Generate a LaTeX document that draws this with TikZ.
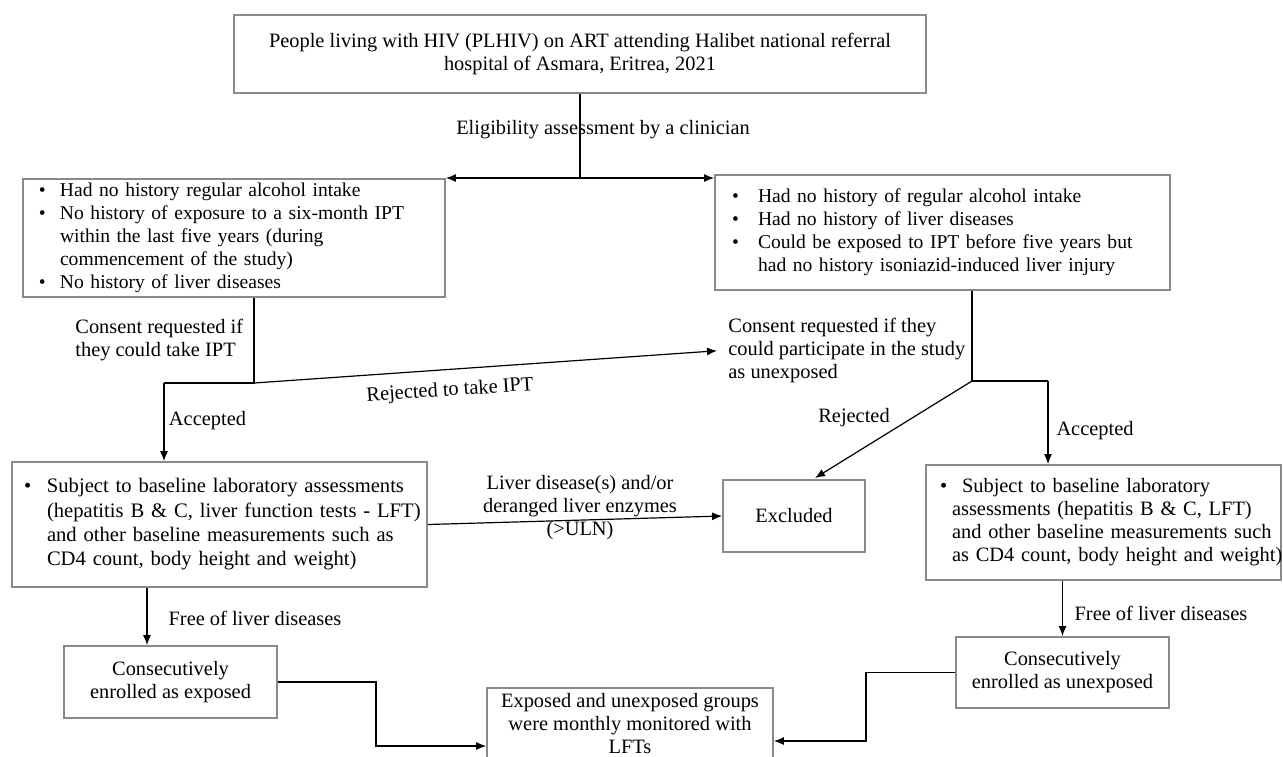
\documentclass[tikz,border=0pt]{standalone}
\usepackage{fontspec}
\setmainfont{Liberation Serif}
\usetikzlibrary{arrows.meta}
\definecolor{boxgray}{HTML}{8A8A8A}
\begin{document}
\begin{tikzpicture}[x=0.5pt,y=-0.5pt,
  font=\fontsize{10.2}{11.5}\selectfont,
  box/.style={draw=boxgray, line width=0.9pt, rectangle, inner sep=0pt},
  cbox/.style={box, align=center},
  lbox/.style={box, align=left},
  lbl/.style={inner sep=0pt},
  conn/.style={line width=0.6pt, black},
  arr/.style={conn, -{Latex[length=5pt,width=4pt]}}
]
\useasboundingbox (0,0) rectangle (1283,756);
\clip (0,0) rectangle (1283,756);

% boxes
\node[cbox, minimum width=346pt, minimum height=39pt] (top) at (580,54)
  {People living with HIV (PLHIV) on ART attending Halibet national referral\\hospital of Asmara, Eritrea, 2021};

\node[lbox, text width=211pt, minimum height=59pt, font=\fontsize{9.8}{11.4}\selectfont] (L1) at (234,238)
  {\noindent\hspace*{8pt}\begin{tabular}{@{}p{10.5pt}@{}l@{}}
  \textbullet & Had no history regular alcohol intake\\
  \textbullet & No history of exposure to a six-month IPT\\
   & within the last five years (during\\
   & commencement of the study)\\
  \textbullet & No history of liver diseases
  \end{tabular}};

\node[lbox, text width=227.5pt, minimum height=57.5pt, font=\fontsize{9.8}{11.5}\selectfont] (R1) at (942.5,232.5)
  {\noindent\hspace*{8.5pt}\begin{tabular}{@{}p{13pt}@{}l@{}}
  \textbullet & Had no history of regular alcohol intake\\
  \textbullet & Had no history of liver diseases\\
  \textbullet & Could be exposed to IPT before five years but\\
   & had no history isoniazid-induced liver injury
  \end{tabular}};

\node[lbox, text width=207.5pt, minimum height=62.5pt, font=\fontsize{10.3}{12.2}\selectfont] (L2) at (219.5,524.5)
  {\noindent\hspace*{6pt}\begin{tabular}{@{}p{11.5pt}@{}l@{}}
  \textbullet & Subject to baseline laboratory assessments\\
   & (hepatitis B \& C, liver function tests - LFT)\\
   & and other baseline measurements such as\\
   & CD4 count, body height and weight)
  \end{tabular}};

\node[lbox, text width=177.5pt, minimum height=57.5pt] (R2) at (1103.5,522.5)
  {\noindent\hspace*{13pt}\begin{tabular}{@{}l@{}}
  \hspace*{-6pt}\makebox[11pt][l]{\textbullet}Subject to baseline laboratory\\
  assessments (hepatitis B \& C, LFT)\\
  and other baseline measurements such\\
  as CD4 count, body height and weight)
  \end{tabular}};

\node[cbox, minimum width=71pt, minimum height=36pt] (exc) at (794,516) {Excluded};
\node[cbox, minimum width=106.5pt, minimum height=36pt] (exp) at (170.5,682) {Consecutively\\enrolled as exposed};
\node[cbox, minimum width=106.5pt, minimum height=35.5pt] (unexp) at (1062.5,672.5) {Consecutively\\enrolled as unexposed};
\node[cbox, minimum width=143pt, minimum height=36pt] (bot) at (630,724) {Exposed and unexposed groups\\were monthly monitored with\\LFTs};

% labels
\node[lbl] (elig) at (603,130) {Eligibility assessment by a clinician};
\node[lbl, align=left, anchor=west] (cons1) at (75,340) {Consent requested if\\they could take IPT};
\node[lbl] (acc1) at (207.5,421) {Accepted};
\node[lbl, rotate=3.8] (rej1) at (450,391) {Rejected to take IPT};
\node[lbl, align=left, anchor=west] (cons2) at (728,350) {Consent requested if they\\could participate in the study\\as unexposed};
\node[lbl] (rej2) at (854,418) {Rejected};
\node[lbl] (acc2) at (1095,431) {Accepted};
\node[lbl, align=center] (liv) at (580,508) {Liver disease(s) and/or\\deranged liver enzymes\\(>ULN)};
\node[lbl] (free1) at (255,618) {Free of liver diseases};
\node[lbl] (free2) at (1161,613) {Free of liver diseases};

% connectors
\coordinate (s0) at (580,178);
\draw[conn] (top.south) -- (s0);
\draw[arr] (s0) -- (s0 -| L1.east);
\draw[arr] (s0) -- (s0 -| R1.west);

\coordinate (j1) at (254,383);
\coordinate (j1b) at (164,383);
\draw[conn] (L1.south -| j1) -- (j1) -- (j1b);
\draw[arr] (j1b) -- (j1b |- L2.north);
\draw[arr, shorten >=5.5pt] (j1) -- (cons2.west);

\coordinate (j2) at (972,381);
\coordinate (j2b) at (1048,381);
\coordinate (e1) at (815,478);
\draw[conn] (R1.south -| j2) -- (j2) -- (j2b);
\draw[arr] (j2b) -- (j2b |- R2.north);
\draw[arr] (j2) -- (e1);

\draw[arr] (L2.east) -- (exc.west);

\coordinate (f1) at (147,0);
\draw[arr] (L2.south -| f1) -- (exp.north -| f1);
\draw[arr] (R2.south -| unexp.north) -- (unexp.north);

\coordinate (b1) at (376,746);
\coordinate (b2) at (866,741);
\draw[arr] (exp.east) -| (b1) -- (b1 -| bot.west);
\draw[arr] (unexp.west) -| (b2) -- (b2 -| bot.east);
\end{tikzpicture}
\end{document}
